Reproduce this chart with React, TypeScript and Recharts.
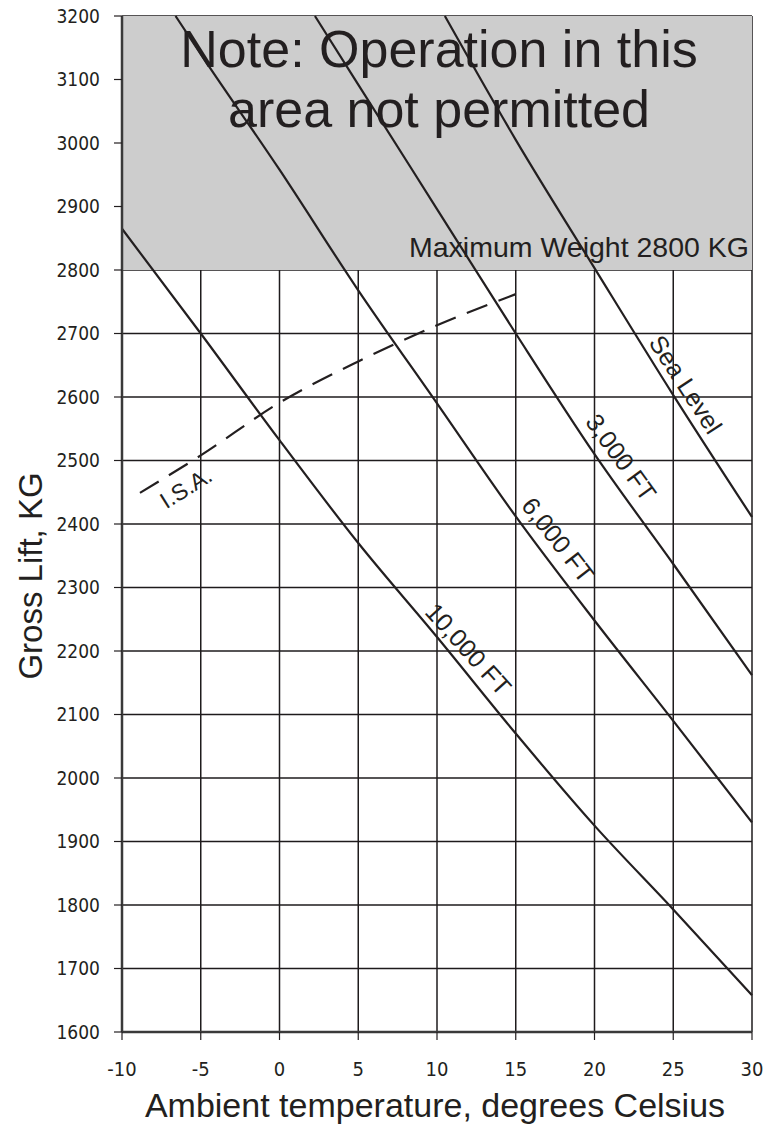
import React from 'react';
import { LineChart, Line, XAxis, YAxis, CartesianGrid, ReferenceArea, ReferenceDot } from 'recharts';

// axis ticks
const tempTicks = [-10, -5, 0, 5, 10, 15, 20, 25, 30];
const liftTicks = [1600, 1700, 1800, 1900, 2000, 2100, 2200, 2300, 2400, 2500, 2600, 2700, 2800, 2900, 3000, 3100, 3200];

// altitude curves (temperature °C -> gross lift kg)
const seaLevelTemp = [10.5, 15, 20, 25, 30];
const seaLevelLift = [3200, 3005, 2803, 2603, 2411];

const ft3000Temp = [2.25, 5, 10, 15, 20, 25, 30];
const ft3000Lift = [3200, 3092, 2896, 2700, 2510, 2337, 2162];

const ft6000Temp = [-6.6, -5, 0, 5, 10, 15, 20, 25, 30];
const ft6000Lift = [3200, 3140, 2958, 2768, 2590, 2412, 2248, 2090, 1930];

const ft10000Temp = [-10, -5, 0, 5, 10, 15, 20, 25, 30];
const ft10000Lift = [2865, 2700, 2532, 2370, 2222, 2070, 1925, 1793, 1658];

const isaTemp = [-8.86, -5, 0, 5, 10, 15];
const isaLift = [2449, 2508, 2591, 2656, 2713, 2762];

const maxWeight = 2800;
const liftCeiling = 3200;

// where the curve names sit (data coords) and their slant
const curveLabels = [
  { text: 'Sea Level', t: 25.8, w: 2620, angle: 57 },
  { text: '3,000 FT', t: 21.7, w: 2505, angle: 54 },
  { text: '6,000 FT', t: 17.7, w: 2375, angle: 52 },
  { text: '10,000 FT', t: 12.0, w: 2203, angle: 48 },
  { text: 'I.S.A.', t: -5.94, w: 2457, angle: -32 },
];

const toPoints = (temps: number[], lifts: number[]) => temps.map((t, i) => ({ t, w: lifts[i] }));

const INK = '#231f20';
const SANS = "'Liberation Sans', Arial, sans-serif";
const NARROW = "'Liberation Sans Narrow', 'DejaVu Sans Condensed', sans-serif";

const slanted = (text: string, angle: number) => (props: any) => {
  const { viewBox } = props;
  const cx = viewBox.x + viewBox.width / 2;
  const cy = viewBox.y + viewBox.height / 2;
  return (
    <text
      x={cx}
      y={cy}
      transform={`rotate(${angle} ${cx} ${cy})`}
      textAnchor="middle"
      dominantBaseline="central"
      fontSize={text === 'I.S.A.' ? 23 : 25}
      fontFamily={SANS}
      fill={INK}
    >
      {text}
    </text>
  );
};

const NoteLabel = (props: any) => {
  const { viewBox } = props;
  const cx = viewBox.x + viewBox.width / 2 + 2;
  return (
    <g fill={INK} fontFamily={SANS}>
      <text x={cx} y={viewBox.y + 51} textAnchor="middle" fontSize={52}>
        Note: Operation in this
      </text>
      <text x={cx} y={viewBox.y + 111} textAnchor="middle" fontSize={52}>
        area not permitted
      </text>
      <text x={viewBox.x + viewBox.width - 3} y={viewBox.y + viewBox.height - 13} textAnchor="end" fontSize={28.5}>
        Maximum Weight 2800 KG
      </text>
    </g>
  );
};

const YTitle = (props: any) => {
  const { viewBox } = props;
  const x = viewBox.x + 42;
  const y = viewBox.y + viewBox.height / 2 + 52;
  return (
    <text x={x} y={y} transform={`rotate(-90 ${x} ${y})`} textAnchor="middle" fontSize={33} fontFamily={SANS} fill={INK}>
      Gross Lift, KG
    </text>
  );
};

const XTitle = (props: any) => {
  const { viewBox } = props;
  return (
    <text
      x={viewBox.x + viewBox.width / 2 - 2}
      y={viewBox.y + 85}
      textAnchor="middle"
      fontSize={34}
      fontFamily={SANS}
      fill={INK}
    >
      Ambient temperature, degrees Celsius
    </text>
  );
};

export default function App() {
  const lineProps = {
    type: 'monotone' as const,
    dataKey: 'w',
    stroke: INK,
    strokeWidth: 2.2,
    dot: false,
    activeDot: false,
    isAnimationActive: false,
  };

  return (
    <div style={{ position: 'absolute', left: 0, top: 0, width: 764, height: 1134, background: '#fff' }}>
      <LineChart width={764} height={1134} margin={{ top: 16, right: 12, left: 0, bottom: 0 }}>
        <ReferenceArea y1={maxWeight} y2={liftCeiling} fill="#cdcdcd" fillOpacity={1} stroke="none" label={NoteLabel} />
        <CartesianGrid stroke="#1e1b1c" strokeWidth={1.5} />
        <XAxis
          type="number"
          dataKey="t"
          domain={[-10, 30]}
          ticks={tempTicks}
          height={102}
          axisLine={{ stroke: '#3a3a3a', strokeWidth: 2.5 }}
          tickLine={{ stroke: INK, strokeWidth: 1.2 }}
          tickSize={8}
          tickMargin={22}
          tick={{ fontSize: 20, fill: INK, fontFamily: NARROW }}
          label={XTitle}
        />
        <YAxis
          type="number"
          domain={[1600, 3200]}
          ticks={liftTicks}
          width={122}
          axisLine={{ stroke: '#3a3a3a', strokeWidth: 2.5 }}
          tickLine={{ stroke: INK, strokeWidth: 1.2 }}
          tickSize={8}
          tickMargin={14}
          tick={{ fontSize: 19, fill: INK, fontFamily: NARROW }}
          label={YTitle}
        />
        <Line {...lineProps} data={toPoints(seaLevelTemp, seaLevelLift)} name="Sea Level" />
        <Line {...lineProps} data={toPoints(ft3000Temp, ft3000Lift)} name="3,000 FT" />
        <Line {...lineProps} data={toPoints(ft6000Temp, ft6000Lift)} name="6,000 FT" />
        <Line {...lineProps} data={toPoints(ft10000Temp, ft10000Lift)} name="10,000 FT" />
        <Line {...lineProps} data={toPoints(isaTemp, isaLift)} name="I.S.A." strokeDasharray="22 12" />
        {curveLabels.map((c) => (
          <ReferenceDot key={c.text} x={c.t} y={c.w} r={0} fill="none" stroke="none" label={slanted(c.text, c.angle)} />
        ))}
      </LineChart>
    </div>
  );
}
